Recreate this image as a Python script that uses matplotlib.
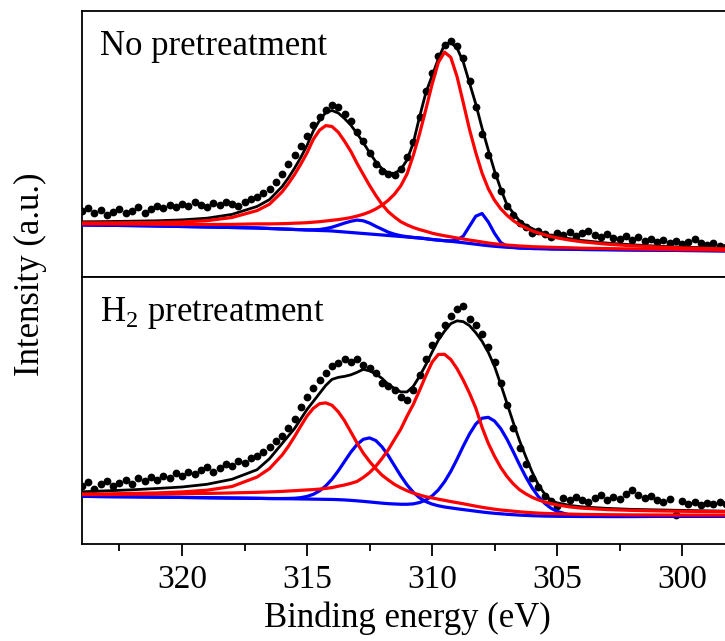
import matplotlib
matplotlib.use("Agg")
import matplotlib.pyplot as plt
from matplotlib.ticker import MultipleLocator

plt.rcParams['font.family'] = ['Liberation Serif', 'DejaVu Serif']
plt.rcParams['mathtext.fontset'] = 'custom'
plt.rcParams['mathtext.rm'] = 'Liberation Serif'

# binding energies of the fitted curves (eV)
E_FIT = [324, 323, 322, 321, 320, 319, 318, 317, 316.5, 316, 315.75, 315.5, 315.25, 315,
         314.75, 314.5, 314.25, 314, 313.75, 313.5, 313.25, 313, 312.75, 312.5, 312.25, 312,
         311.75, 311.5, 311.25, 311, 310.75, 310.5, 310.25, 310, 309.75, 309.5, 309.25, 309,
         308.75, 308.5, 308.25, 308, 307.75, 307.5, 307.25, 307, 306.75, 306.5, 306.25, 306,
         305.75, 305.5, 305.25, 305, 304.5, 304, 303, 302, 301, 300, 299, 298]

# binding energies of the measured points (eV)
E_DATA = [324.0, 323.75, 323.5, 323.25, 323.0, 322.75, 322.5, 322.25, 322.0,
          321.75, 321.5, 321.25, 321.0, 320.75, 320.5, 320.25, 320.0,
          319.75, 319.5, 319.25, 319.0, 318.75, 318.5, 318.25, 318.0,
          317.75, 317.5, 317.25, 317.0, 316.75, 316.5, 316.25, 316.0,
          315.75, 315.5, 315.25, 315.0, 314.75, 314.5, 314.25, 314.0,
          313.75, 313.5, 313.25, 313.0, 312.75, 312.5, 312.25, 312.0,
          311.75, 311.5, 311.25, 311.0, 310.75, 310.5, 310.25, 310.0,
          309.75, 309.5, 309.25, 309.0, 308.75, 308.5, 308.25, 308.0,
          307.75, 307.5, 307.25, 307.0, 306.75, 306.5, 306.25, 306.0,
          305.75, 305.5, 305.25, 305.0, 304.75, 304.5, 304.25, 304.0,
          303.75, 303.5, 303.25, 303.0, 302.75, 302.5, 302.25, 302.0,
          301.75, 301.5, 301.25, 301.0, 300.75, 300.5, 300.25, 300.0,
          299.75, 299.5, 299.25, 299.0, 298.75, 298.5, 298.25]

# ---- No pretreatment ----
TOP_DATA = [66, 69, 64, 67, 62, 65, 68, 64, 66,
            70, 64, 68, 71, 69, 72, 70, 73,
            71, 75, 72, 70, 74, 72, 75, 73,
            71, 75, 78, 80, 84, 88, 95, 103,
            113, 122, 131, 141, 152, 160, 167, 172,
            170, 163, 156, 145, 136, 124, 113, 106,
            103, 102, 108, 120, 135, 160, 186, 204,
            221, 232, 236, 231, 219, 196, 170, 143,
            122, 102, 86, 71, 62, 54, 50, 44,
            46, 43, 40, 44, 42, 45, 41, 44,
            46, 42, 40, 43, 39, 38, 41, 37,
            40, 36, 38, 35, 37, 34, 36, 33,
            35, 38, 34, 32, 34, 31, 30]
TOP_FIT = [55.2, 55.4, 55.8, 56.2, 57.1, 58.8, 62.6, 70.5, 77.4, 90.3, 98.9, 108.7, 119.5, 131.5,
           146.0, 156.6, 164.5, 166.5, 164.0, 158.5, 152.0, 143.5, 134.5, 124.5, 115.3, 108.2,
           103.8, 103.7, 107.5, 117.0, 134.0, 160.0, 184.0, 201.0, 218.0, 232.5, 234.5, 229.0,
           215.0, 194.0, 173.0, 149.0, 127.0, 106.0, 88.0, 72.0, 64.0, 56.0, 51.5, 48.5,
           45.5, 43.5, 41.5, 40.0, 38.3, 36.5, 33.9, 32.2, 30.8, 29.8, 29.2, 28.5]
TOP_RED1 = [54.1, 54.1, 54.3, 54.5, 55.0, 56.3, 59.5, 66.4, 72.8, 85.0, 93.2, 102.4, 112.8, 124.1,
            137.6, 146.8, 151.4, 150.5, 144.8, 135.8, 125.8, 113.7, 102.6, 91.6, 81.6, 72.6,
            65.3, 60.0, 55.3, 52.1, 49.5, 47.4, 45.7, 43.8, 42.4, 41.2, 40.1, 39.0,
            38.0, 36.9, 36.0, 35.0, 34.0, 33.2, 32.5, 31.9, 31.5, 31.0, 30.7, 30.3,
            30.1, 29.9, 29.7, 29.5, 29.2, 28.8, 28.4, 28.0, 27.6, 27.2, 27.0, 26.6]
TOP_RED2 = [53.1, 53.0, 52.9, 52.7, 52.6, 52.5, 52.6, 53.1, 53.1, 53.3, 53.5, 53.8, 54.0, 54.3,
            54.8, 55.3, 56.0, 56.7, 57.4, 58.3, 59.4, 60.9, 62.7, 65.0, 68.0, 71.8,
            76.7, 82.9, 91.1, 103.0, 121.5, 143.0, 167.3, 192.5, 214.4, 224.9, 219.7, 200.5,
            174.3, 147.5, 124.3, 104.0, 88.3, 76.7, 68.2, 61.7, 56.4, 52.3, 49.1, 46.2,
            44.1, 42.2, 40.5, 39.1, 36.9, 35.2, 32.8, 31.2, 30.0, 29.1, 28.5, 27.9]
TOP_BLUE1 = [52.0, 51.7, 51.4, 51.0, 50.5, 50.0, 49.5, 49.0, 48.5, 48.0, 47.8, 47.5, 47.3, 47.1,
             47.2, 47.5, 48.4, 49.8, 51.8, 53.9, 55.7, 56.9, 56.2, 53.9, 50.7, 47.8,
             44.8, 42.8, 41.3, 40.3, 39.5, 39.0, 38.3, 37.5, 36.9, 36.3, 35.7, 35.0,
             34.3, 33.5, 32.8, 32.0, 31.3, 30.7, 30.2, 29.7, 29.4, 29.0, 28.8, 28.5,
             28.4, 28.3, 28.1, 28.0, 27.8, 27.5, 27.3, 27.0, 26.8, 26.5, 26.3, 26.0]
TOP_BLUE2 = [52.0, 51.7, 51.4, 51.0, 50.5, 50.0, 49.5, 49.0, 48.5, 48.0, 47.8, 47.5, 47.3, 47.0,
             46.8, 46.5, 46.3, 46.0, 45.5, 45.0, 44.5, 44.0, 43.5, 43.0, 42.5, 42.0,
             41.5, 41.0, 40.5, 40.0, 39.5, 39.0, 38.3, 37.5, 36.9, 36.3, 36.1, 36.9,
             40.9, 50.8, 60.8, 63.5, 55.1, 43.6, 34.5, 30.7, 29.6, 29.0, 28.8, 28.5,
             28.4, 28.3, 28.1, 28.0, 27.8, 27.5, 27.3, 27.0, 26.8, 26.5, 26.3, 26.0]

# ---- H2 pretreatment ----
BOT_DATA = [58, 62, 55, 60, 63, 58, 61, 64, 60,
            66, 63, 67, 64, 68, 66, 71, 68,
            72, 70, 74, 77, 72, 76, 80, 78,
            83, 81, 86, 88, 92, 97, 103, 108,
            116, 125, 136, 146, 155, 163, 170, 177,
            180, 184, 181, 184, 178, 175, 170, 160,
            157, 153, 146, 143, 153, 168, 184, 198,
            208, 218, 227, 234, 237, 224, 218, 209,
            196, 181, 160, 138, 116, 96, 80, 66,
            57, 48, 43, 38, 46, 44, 47, 44,
            42, 46, 49, 44, 47, 45, 50, 54,
            49, 46, 48, 44, 42, 45, 29, 43,
            40, 42, 39, 41, 40, 42, 40]
BOT_FIT = [52.0, 53.0, 54.0, 55.3, 56.8, 59.5, 64.5, 74.0, 85.0, 100.0, 107.5, 115.0, 124.5, 134.0,
           142.0, 150.0, 158.0, 164.0, 166.0, 167.0, 168.5, 171.0, 174.0, 172.5, 169.5, 165.0,
           159.0, 155.0, 151.5, 151.5, 157.0, 167.0, 178.5, 191.0, 203.0, 212.0, 219.5, 222.3,
           221.5, 217.5, 210.5, 202.0, 191.0, 177.0, 159.0, 140.0, 121.0, 103.0, 87.0, 72.0,
           59.0, 50.0, 43.5, 41.0, 38.5, 37.0, 35.5, 34.5, 34.0, 33.5, 33.0, 32.7]
BOT_RED1 = [49.8, 49.9, 50.4, 50.9, 51.9, 53.6, 57.3, 66.7, 75.1, 88.5, 97.1, 107.0, 117.5, 127.5,
            135.1, 139.8, 140.6, 138.2, 131.7, 122.8, 111.8, 100.7, 90.6, 82.3, 75.0, 68.6,
            63.8, 59.4, 56.0, 53.1, 50.7, 48.9, 47.1, 45.9, 44.7, 43.5, 42.3, 41.2,
            40.1, 38.9, 37.7, 36.6, 35.6, 34.7, 33.9, 33.3, 32.7, 32.1, 31.6, 31.2,
            30.8, 30.5, 30.3, 30.1, 29.8, 29.5, 29.2, 29.0, 28.9, 28.8, 28.8, 28.8]
BOT_RED2 = [49.3, 49.3, 49.6, 49.8, 50.1, 50.4, 50.9, 51.5, 51.9, 52.4, 52.8, 53.1, 53.5, 53.9,
            54.2, 54.7, 55.4, 56.2, 57.6, 58.8, 60.4, 62.3, 66.3, 71.1, 77.4, 85.2,
            93.9, 104.2, 114.4, 127.3, 139.0, 153.0, 167.5, 181.0, 188.8, 189.0, 183.8, 174.7,
            163.2, 150.2, 135.5, 116.3, 100.3, 87.4, 76.2, 67.2, 59.9, 54.1, 50.0, 46.6,
            44.0, 41.9, 40.3, 39.0, 37.0, 35.7, 34.3, 33.5, 33.0, 32.6, 32.4, 32.2]
BOT_BLUE1 = [47.5, 47.2, 47.0, 46.7, 46.4, 46.1, 45.8, 45.5, 45.3, 45.3, 45.4, 45.6, 46.2, 47.4,
             49.5, 52.9, 57.9, 64.6, 72.9, 82.2, 91.4, 99.1, 104.3, 105.7, 103.1, 96.8,
             88.1, 78.0, 67.9, 58.9, 51.6, 46.1, 42.3, 39.8, 38.1, 36.9, 36.0, 35.1,
             34.3, 33.5, 32.7, 31.9, 31.2, 30.6, 30.1, 29.6, 29.2, 28.8, 28.5, 28.2,
             28.0, 27.8, 27.7, 27.6, 27.5, 27.4, 27.4, 27.4, 27.5, 27.5, 27.6, 27.7]
BOT_BLUE2 = [47.5, 47.2, 47.0, 46.7, 46.4, 46.1, 45.8, 45.5, 45.3, 45.2, 45.1, 45.0, 44.9, 44.8,
             44.7, 44.6, 44.5, 44.4, 44.2, 43.9, 43.5, 43.0, 42.5, 41.9, 41.3, 40.7,
             40.2, 39.9, 39.6, 39.6, 40.0, 41.3, 43.8, 47.8, 53.8, 62.0, 72.3, 84.5,
             97.5, 109.6, 119.5, 125.3, 126.2, 122.5, 114.9, 104.3, 91.9, 79.0, 66.9, 56.1,
             47.4, 40.7, 35.8, 32.5, 29.0, 27.8, 27.4, 27.4, 27.5, 27.5, 27.6, 27.7]

PANELS = [
    ("No pretreatment", TOP_DATA, TOP_FIT, [TOP_BLUE1, TOP_BLUE2], [TOP_RED1, TOP_RED2]),
    ("H$_\\mathrm{2}$ pretreatment", BOT_DATA, BOT_FIT, [BOT_BLUE1, BOT_BLUE2], [BOT_RED1, BOT_RED2]),
]

fig = plt.figure(figsize=(7.25, 6.41), dpi=100)
ax_top = fig.add_axes([0.1131, 0.5679, 0.8966, 0.4149])
ax_bot = fig.add_axes([0.1131, 0.1513, 0.8966, 0.4166])

for ax, (label, data, fit, blues, reds) in zip([ax_top, ax_bot], PANELS):
    ax.plot(E_DATA, data, 'o', color='black', markersize=5.6, markeredgewidth=0, zorder=2)
    ax.plot(E_FIT, fit, color='black', linewidth=2.0, zorder=3)
    for b in blues:
        ax.plot(E_FIT, b, color='#0000ff', linewidth=2.3, zorder=4)
    for r in reds:
        ax.plot(E_FIT, r, color='#ff0000', linewidth=2.3, zorder=5)
    ax.set_xlim(324, 298)
    ax.set_ylim(0, 266)
    ax.text(0.028, 0.834, label, transform=ax.transAxes, fontsize=25, va='baseline', ha='left')
    for s in ax.spines.values():
        s.set_linewidth(1.3)
    ax.set_yticks([])

ax_top.set_xticks([])
ax_bot.xaxis.set_major_locator(MultipleLocator(5))
ax_bot.xaxis.set_minor_locator(MultipleLocator(2.5))
ax_bot.tick_params(axis='x', which='major', direction='out', length=8.5, width=1.3,
                   labelsize=24, pad=6)
ax_bot.tick_params(axis='x', which='minor', direction='out', length=5, width=1.3)
ax_bot.set_xlabel("Binding energy (eV)", fontsize=25, labelpad=5)

fig.text(30 / 725, 0.572, "Intensity (a.u.)", rotation=90, fontsize=25, ha='center', va='center')

fig.savefig("out.png", dpi=100)
